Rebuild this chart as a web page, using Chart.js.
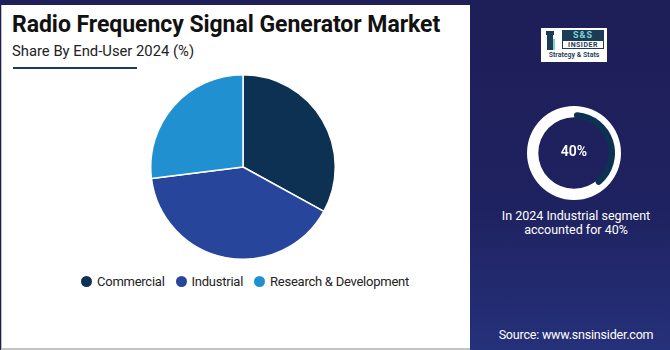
<!DOCTYPE html>
<html>
<head>
<meta charset="utf-8">
<script src="https://cdn.jsdelivr.net/npm/chart.js@4.4.1/dist/chart.umd.min.js"></script>
<style>
  html, body { margin: 0; padding: 0; }
  body { width: 670px; height: 350px; position: relative; overflow: hidden;
         background: #1f1f59; font-family: Roboto, "Liberation Sans", sans-serif; }
  #side { position: absolute; left: 470px; top: 0; width: 200px; height: 350px;
          background: linear-gradient(180deg, #1e1e58 0%, #1f2260 60%, #25317a 100%); }
  #panel { position: absolute; left: 1px; top: 5px; width: 468px; height: 343px;
           background: #fff; border-left: 1px solid #bdbdbd; border-bottom: 2px solid #c4c4c4; }
  #title { position: absolute; left: 12px; top: 11px; font-size: 23px; font-weight: 700;
           color: #111; letter-spacing: -0.05px; white-space: nowrap; }
  #subtitle { position: absolute; left: 12px; top: 42px; font-size: 14.8px; color: #222; white-space: nowrap; }
  #rule { position: absolute; left: 13px; top: 67px; width: 124px; height: 2px; background: #1d3a5f; }
  #pieBox { position: absolute; left: 150px; top: 74px; width: 186px; height: 186px; }
  #legend { position: absolute; left: 81px; top: 274px; display: flex; align-items: center;
            font-size: 13px; letter-spacing: -0.25px; color: #222; white-space: nowrap; }
  #legend .item { display: flex; align-items: center; margin-right: 11px; }
  #legend .dot { width: 11px; height: 11px; border-radius: 50%; margin-right: 5px; }
  #ringBox, #arcBox { position: absolute; }
  #ringBox { left: 527px; top: 106px; width: 94px; height: 94px; }
  #arcBox { left: 533px; top: 112px; width: 82px; height: 82px; }
  #ringLabel { position: absolute; left: 527px; top: 143px; width: 94px; text-align: center;
               color: #fff; font-size: 14px; font-weight: 600; }
  #note { position: absolute; left: 476px; top: 209px; width: 200px; text-align: center;
          color: #fff; font-size: 12.5px; line-height: 14px; }
  #source { position: absolute; left: 476px; top: 327px; width: 200px; text-align: center;
            color: #fff; font-size: 12.5px; letter-spacing: -0.2px; }
  #logo { position: absolute; left: 541px; top: 28px; width: 66px; height: 34px; background: #fff; }
  #logo .tower { position: absolute; left: 3px; top: 2px; width: 12px; height: 20px; }
  #logo .ss { position: absolute; left: 21px; top: 2px; width: 42px; height: 10px; background: #1c3b57;
              color: #7fd3d0; font-size: 9px; font-weight: 700; line-height: 10px; text-align: center; letter-spacing: 1px; }
  #logo .ins { position: absolute; left: 21px; top: 12px; width: 42px; height: 9px; border: 1px solid #1c3b57;
               box-sizing: border-box; color: #1c3b57; font-size: 7px; font-weight: 700; line-height: 8px; text-align: center; letter-spacing: 0.5px; }
  #logo .tag { position: absolute; left: 2px; top: 23px; width: 62px; text-align: center; color: #1c3b57;
               font-size: 7px; line-height: 9px; font-weight: 600; }
</style>
</head>
<body>
<div id="side"></div>
<div id="panel"></div>
<div id="title">Radio Frequency Signal Generator Market</div>
<div id="subtitle">Share By End-User 2024 (%)</div>
<div id="rule"></div>
<div id="pieBox"><canvas id="pie"></canvas></div>
<div id="legend"></div>

<div id="logo">
  <svg class="tower" viewBox="0 0 12 20">
    <rect x="3" y="4" width="6" height="16" fill="#1c3b57"/>
    <rect x="2" y="1" width="8" height="4" fill="#1c3b57"/>
    <rect x="9" y="9" width="2" height="11" fill="#7fd3d0"/>
  </svg>
  <div class="ss">S&amp;S</div>
  <div class="ins">INSIDER</div>
  <div class="tag">Strategy &amp; Stats</div>
</div>

<div id="ringBox"><canvas id="ring"></canvas></div>
<div id="arcBox"><canvas id="arc"></canvas></div>
<div id="ringLabel"></div>
<div id="note"></div>
<div id="source">Source: www.snsinsider.com</div>

<script>
// End-user shares, 2024 (%)
const categories = ['Commercial', 'Industrial', 'Research & Development'];
const shares = [33, 40, 27];
const sliceColors = ['#0c3152', '#26459b', '#2190d0'];

// Highlighted segment shown in the side gauge
const highlightIndex = 1;
const highlightShare = shares[highlightIndex];

// Main pie
new Chart(document.getElementById('pie'), {
  type: 'pie',
  data: {
    labels: categories,
    datasets: [{
      data: shares,
      backgroundColor: sliceColors,
      borderColor: '#ffffff',
      borderWidth: 1.5
    }]
  },
  options: {
    responsive: true,
    maintainAspectRatio: false,
    animation: false,
    layout: { padding: 0 },
    plugins: { legend: { display: false }, tooltip: { enabled: false } }
  }
});

// Legend below the pie
const legend = document.getElementById('legend');
categories.forEach((name, i) => {
  const item = document.createElement('div');
  item.className = 'item';
  const dot = document.createElement('span');
  dot.className = 'dot';
  dot.style.background = sliceColors[i];
  const label = document.createElement('span');
  label.textContent = name;
  item.appendChild(dot);
  item.appendChild(label);
  legend.appendChild(item);
});

// Gauge: white ring with the highlighted share as a dark arc inside it
new Chart(document.getElementById('ring'), {
  type: 'doughnut',
  data: { datasets: [{ data: [100], backgroundColor: ['#ffffff'], borderWidth: 0 }] },
  options: {
    responsive: true, maintainAspectRatio: false, animation: false, cutout: '76%',
    plugins: { legend: { display: false }, tooltip: { enabled: false } }
  }
});
new Chart(document.getElementById('arc'), {
  type: 'doughnut',
  data: {
    datasets: [{
      data: [highlightShare, 100 - highlightShare],
      backgroundColor: ['#0c3152', 'rgba(0,0,0,0)'],
      borderWidth: 0,
      borderRadius: [6, 0]
    }]
  },
  options: {
    responsive: true, maintainAspectRatio: false, animation: false, cutout: '84%',
    plugins: { legend: { display: false }, tooltip: { enabled: false } }
  }
});

document.getElementById('ringLabel').textContent = highlightShare + '%';
document.getElementById('note').innerHTML =
  'In 2024 ' + categories[highlightIndex] + ' segment<br>accounted for ' + highlightShare + '%';
</script>
</body>
</html>
